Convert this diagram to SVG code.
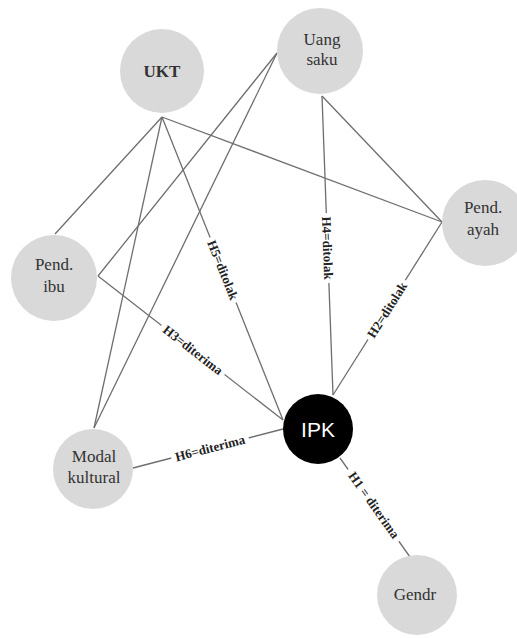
<svg xmlns="http://www.w3.org/2000/svg" width="517" height="638" viewBox="0 0 517 638">
<style>
.edge{stroke:#6e6e6e;stroke-width:1.3;fill:none}
.node{fill:#d9d9d9}
.ntext{font-family:"Liberation Serif",serif;font-size:17px;fill:#333;text-anchor:middle}
.lbl rect{fill:#fff}
.lbl text{font-family:"Liberation Serif",serif;font-size:13px;font-weight:bold;fill:#222;text-anchor:middle}
</style>
<rect width="517" height="638" fill="#fff"/>
<g id="connectors">
<line class="edge" x1="162" y1="117" x2="55" y2="234"/>
<line class="edge" x1="162" y1="117" x2="94" y2="428"/>
<line class="edge" x1="162" y1="117" x2="442" y2="222"/>
<line class="edge" x1="162" y1="117" x2="283" y2="420"/>
<line class="edge" x1="277" y1="53" x2="98" y2="276"/>
<line class="edge" x1="277" y1="53" x2="94" y2="428"/>
<line class="edge" x1="322" y1="96" x2="442" y2="222"/>
<line class="edge" x1="322" y1="96" x2="333" y2="395"/>
<line class="edge" x1="442" y1="222" x2="333" y2="395"/>
<line class="edge" x1="98" y1="276" x2="283" y2="420"/>
<line class="edge" x1="133" y1="468" x2="283" y2="429"/>
<line class="edge" x1="340" y1="458" x2="410" y2="557"/>
<g class="lbl" transform="translate(223,270) rotate(68.2)"><rect x="-35" y="-7" width="70" height="14"/><text y="4.5">H5=ditolak</text></g>
<g class="lbl" transform="translate(327.6,248) rotate(87.9)"><rect x="-35" y="-7" width="70" height="14"/><text y="4.5">H4=ditolak</text></g>
<g class="lbl" transform="translate(387,310) rotate(-57.8)"><rect x="-35" y="-7" width="70" height="14"/><text y="4.5">H2=ditolak</text></g>
<g class="lbl" transform="translate(193,350) rotate(37.9)"><rect x="-40" y="-7" width="80" height="14"/><text y="4.5">H3=diterima</text></g>
<g class="lbl" transform="translate(210,448) rotate(-14.6)"><rect x="-40" y="-7" width="80" height="14"/><text y="4.5">H6=diterima</text></g>
<g class="lbl" transform="translate(374,505) rotate(54.7)"><rect x="-44" y="-7" width="88" height="14"/><text y="4.5">H1 = diterima</text></g>
</g>
<g id="node-ukt"><circle class="node" cx="162" cy="71" r="42"/><text class="ntext" x="162" y="77" font-weight="bold">UKT</text></g>
<g id="node-uang-saku"><circle class="node" cx="320" cy="51" r="43"/><text class="ntext" x="322" y="45">Uang</text><text class="ntext" x="322" y="65">saku</text></g>
<g id="node-pend-ibu"><circle class="node" cx="54" cy="278" r="43"/><text class="ntext" x="54" y="270">Pend.</text><text class="ntext" x="54" y="292">ibu</text></g>
<g id="node-pend-ayah"><circle class="node" cx="485" cy="223" r="43"/><text class="ntext" x="483" y="213">Pend.</text><text class="ntext" x="483" y="235">ayah</text></g>
<g id="node-modal-kultural"><circle class="node" cx="93" cy="469" r="40"/><text class="ntext" x="94" y="462">Modal</text><text class="ntext" x="94" y="483">kultural</text></g>
<g id="node-ipk"><circle cx="318" cy="429" r="35" fill="#000"/><text x="318" y="437" font-family="Liberation Sans,Arial,sans-serif" font-size="21" fill="#fff" text-anchor="middle">IPK</text></g>
<g id="node-gendr"><circle class="node" cx="417" cy="595" r="40"/><text class="ntext" x="415" y="600">Gendr</text></g>
</svg>
